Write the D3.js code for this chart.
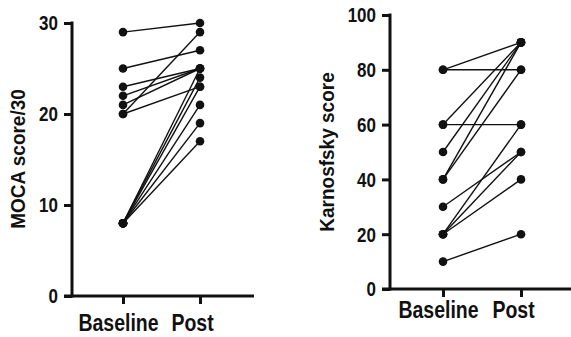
<!DOCTYPE html>
<html>
<head>
<meta charset="utf-8">
<script src="https://cdn.jsdelivr.net/npm/d3@7"></script>
<style>
  body { margin: 0; background: #fff; }
  svg { display: block; }
  text { font-family: "Liberation Sans", Arial, sans-serif; font-weight: bold; fill: #111; }
</style>
</head>
<body>
<div id="chart"></div>
<script>
const groups = ['Baseline', 'Post'];

// MOCA score/30, one pair per patient
const mocaBaseline = [29, 25, 23, 22, 21, 20, 20, 8, 8, 8, 8, 8, 8];
const mocaPost     = [30, 27, 25, 25, 25, 29, 23, 25, 24, 23, 21, 19, 17];
const mocaTicks = [0, 10, 20, 30];

// Karnofsky score
const karnBaseline = [80, 80, 60, 60, 50, 40, 40, 30, 20, 20, 20, 10];
const karnPost     = [90, 80, 90, 60, 90, 90, 80, 50, 60, 50, 40, 20];
const karnTicks = [0, 20, 40, 60, 80, 100];

const width = 571, height = 337;

const svg = d3.select('#chart')
  .append('svg')
  .attr('width', width)
  .attr('height', height);

function drawPanel(opt) {
  const g = svg.append('g');

  const x = d3.scalePoint()
    .domain(groups)
    .range([opt.bx, opt.px]);

  const y = d3.scaleLinear()
    .domain([0, opt.max])
    .range([opt.y0, opt.y1]);

  // y axis
  const yAxis = d3.axisLeft(y)
    .tickValues(opt.ticks)
    .tickSize(8)
    .tickSizeOuter(0);

  const yg = g.append('g')
    .attr('transform', `translate(${opt.ax},0)`)
    .call(yAxis);
  yg.select('.domain')
    .style('stroke', '#111')
    .style('stroke-width', '3px')
    .attr('d', `M0,${opt.y1 - 1.5}V${opt.y0 + 1.5}`);
  yg.selectAll('.tick line').style('stroke', '#111').style('stroke-width', '3px');
  yg.selectAll('.tick text')
    .attr('x', null)
    .attr('dy', null)
    .attr('y', 6)
    .attr('transform', 'translate(-14,0) scale(1,1.15)')
    .style('font-size', '17px')
    .style('font-family', '"Liberation Sans", Arial, sans-serif')
    .style('font-weight', 'bold')
    .style('fill', '#111');

  // x axis
  const xAxis = d3.axisBottom(x)
    .tickSize(8)
    .tickSizeOuter(0);

  const xg = g.append('g')
    .attr('transform', `translate(0,${opt.y0})`)
    .call(xAxis);
  xg.select('.domain')
    .style('stroke', '#111')
    .style('stroke-width', '3px')
    .attr('d', `M${opt.ax - 8},0H${opt.xEnd}`);
  xg.selectAll('.tick line').style('stroke', '#111').style('stroke-width', '3px');
  xg.selectAll('.tick text')
    .attr('y', null)
    .attr('dy', null)
    .attr('transform', d => `translate(${d === 'Baseline' ? -5 : -8},${opt.labelDy}) scale(1,1.22)`)
    .style('font-size', '19.5px')
    .style('font-family', '"Liberation Sans", Arial, sans-serif')
    .style('font-weight', 'bold')
    .style('fill', '#111');

  g.append('text')
    .attr('transform', `translate(${opt.titleX},${opt.titleY}) rotate(-90) scale(1,1.1)`)
    .attr('text-anchor', 'middle')
    .style('font-size', '19px')
    .text(opt.title);

  const pairs = opt.base.map((b, i) => [b, opt.post[i]]);

  g.append('g')
    .selectAll('line')
    .data(pairs)
    .join('line')
    .attr('x1', x('Baseline'))
    .attr('x2', x('Post'))
    .attr('y1', d => y(d[0]))
    .attr('y2', d => y(d[1]))
    .attr('stroke', '#111')
    .attr('stroke-width', 1.4);

  const dots = [];
  pairs.forEach(d => {
    dots.push({ grp: 'Baseline', v: d[0] });
    dots.push({ grp: 'Post', v: d[1] });
  });

  g.append('g')
    .selectAll('circle')
    .data(dots)
    .join('circle')
    .attr('cx', d => x(d.grp))
    .attr('cy', d => y(d.v))
    .attr('r', 4.3)
    .attr('fill', '#111');
}

drawPanel({
  base: mocaBaseline, post: mocaPost, ticks: mocaTicks, max: 30,
  ax: 72, bx: 123, px: 200, xEnd: 254, y0: 296, y1: 23,
  labelDy: 35, title: 'MOCA score/30', titleX: 25, titleY: 159
});

drawPanel({
  base: karnBaseline, post: karnPost, ticks: karnTicks, max: 100,
  ax: 390, bx: 443, px: 521, xEnd: 571, y0: 289, y1: 15,
  labelDy: 29, title: 'Karnosfsky score', titleX: 334, titleY: 152
});
</script>
</body>
</html>
